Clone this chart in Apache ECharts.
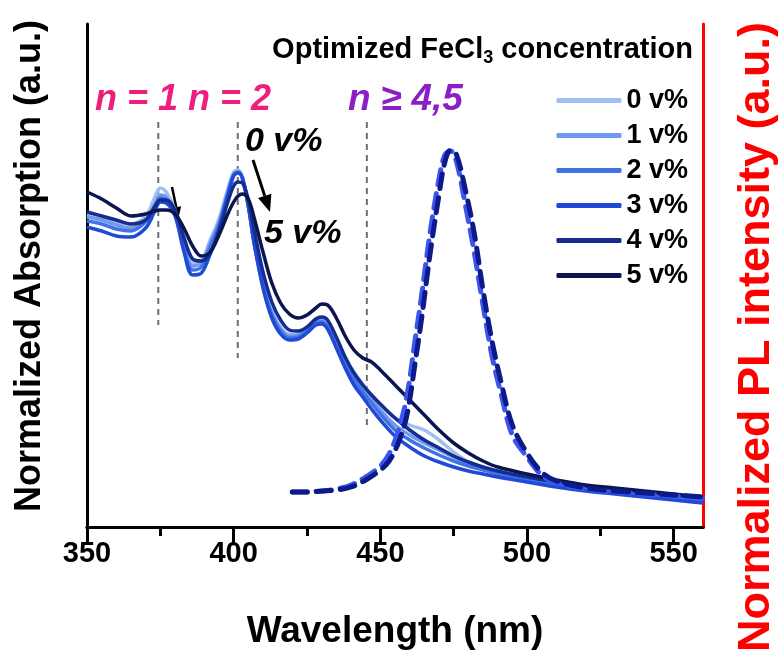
<!DOCTYPE html>
<html>
<head>
<meta charset="utf-8">
<script src="https://cdn.jsdelivr.net/npm/echarts@6/dist/echarts.min.js"></script>
<style>
html,body{margin:0;padding:0;background:#fff;}
#chart{width:780px;height:657px;}
</style>
</head>
<body>
<div id="chart"></div>
<script>
// ---- Data ----
const wavelengths = [350,355,360,365,370,373,375,377,380,383,386,389,392,395,398,400,401.5,403,405,407,410,413,416,419,422,425,428,430,432,435,438,441,444,447,450,455,460,465,470,475,480,485,490,500,510,520,530,540,550,560];
const abs0 = [312,309,305,303,311,329,339,335,317,284,263,266,287,308,338,355,357,349,322,287,245,217,200,193,194,199,207,208,203,187,169,155,143,132,122,109,102,97,87,75,65,59,55,49,44,40,37,33,30,27];
const abs1 = [310,307,302,299,307,322,332,330,315,282,261,264,284,305,335,353,355,348,320,284,242,214,198,191,192,197,205,206,201,184,166,151,139,128,117,102,92,84,77,70,64,59,55,49,44,40,36,33,30,27];
const abs2 = [306,303,298,296,305,319,329,327,313,279,257,260,280,302,333,352,355,349,321,284,241,212,196,189,190,196,204,205,200,182,163,147,135,124,113,97,87,79,72,66,61,57,53,47,42,38,35,32,29,26];
const abs3 = [300,296,291,290,299,315,325,324,311,276,252,254,273,298,331,351,354,349,321,283,239,209,193,187,188,194,202,203,198,179,159,142,130,118,107,91,80,71,65,60,56,53,50,45,40,36,33,30,27,24];
const abs4 = [315,311,307,303,307,320,327,327,317,290,268,266,274,296,325,341,345,344,327,297,255,225,207,197,196,200,208,210,207,190,170,154,142,132,123,109,97,87,79,71,65,60,56,50,45,41,38,35,32,29];
const abs5 = [335,328,319,311,313,316,317,317,313,299,281,271,275,292,313,325,331,333,328,309,275,244,224,213,209,212,219,223,222,209,191,177,169,165,157,142,127,112,97,84,74,66,60,53,47,42,39,36,33,30];
const absNames = ['0 v%','1 v%','2 v%','3 v%','4 v%','5 v%'];
const absColors = ['#a3bdf5','#7299ec','#4272e6','#2049d8','#152d8f','#0b1550'];

const plWavelengths = [420,425,430,435,440,445,450,453,456,459,462,464,467,470,472,474,476,479,482,485,488,491,495,500,505,510,520,530,540,550,560];
const plBlue = [35,35,36,38,42,50,61,73,95,130,190,230,295,348,372,376,365,322,275,222,172,135,92,70,52,44,38,35,33,31,29];
const plNavy = [35,35,36,37,40,47,57,66,83,111,167,207,274,332,365,377,372,337,294,237,187,147,102,74,55,46,39,36,34,32,30];

const markerWavelengths = [374.3, 401.4, 445.4];
const markerTop = 405;
const markerBottoms = [202, 169, 97];

const xTickValues = [350,400,450,500,550];
const xMinorTickValues = [375,425,475,525];

// ---- Chart ----
const chart = echarts.init(document.getElementById('chart'));
const absSeries = [abs0,abs1,abs2,abs3,abs4,abs5].map((arr,k)=>({
  name: absNames[k], type:'line', xAxisIndex:0, yAxisIndex:0,
  data: wavelengths.map((w,i)=>[w,arr[i]]),
  smooth: 0.35, symbol:'none',
  lineStyle:{width:3.5,color:absColors[k]}, itemStyle:{color:absColors[k]},
  z: 3 + k, silent:true
}));
const markerSeries = markerWavelengths.map((w,i)=>({
  name:'marker'+i, type:'line', xAxisIndex:0, yAxisIndex:0,
  data:[[w,markerTop],[w,markerBottoms[i]]], symbol:'none',
  lineStyle:{width:2,color:'#6e6e6e',type:[6,5]}, z:2, silent:true
}));
const plSeries = [
  {name:'PL 0 v%', data: plWavelengths.map((w,i)=>[w,plBlue[i]]), color:'#3b55ee'},
  {name:'PL 5 v%', data: plWavelengths.map((w,i)=>[w,plNavy[i]]), color:'#0c1a8a'}
].map((s,k)=>({
  name:s.name, type:'line', xAxisIndex:0, yAxisIndex:1, data:s.data,
  smooth:0.35, symbol:'none', lineStyle:{width:5,color:s.color,type:[15,9],cap:'round'},
  z: 10+k, silent:true
}));

const FONT = '"Liberation Sans", Arial, sans-serif';
function arrowEls(from, tip, headLen, halfW, width){
  const dx = tip[0]-from[0], dy = tip[1]-from[1];
  const L = Math.hypot(dx,dy), ux = dx/L, uy = dy/L;
  const bx = tip[0]-ux*headLen, by = tip[1]-uy*headLen;
  const px = -uy*halfW, py = ux*halfW;
  return [
    {type:'line', shape:{x1:from[0],y1:from[1],x2:bx,y2:by}, style:{stroke:'#000',lineWidth:width}},
    {type:'polygon', shape:{points:[[tip[0],tip[1]],[bx+px,by+py],[bx-px,by-py]]}, style:{fill:'#000'}}
  ];
}

chart.setOption({
  animation:false,
  backgroundColor:'#fff',
  grid:{left:87,right:77,top:24,bottom:130,containLabel:false},
  legend:{
    data:absNames, orient:'vertical', right:87, top:82, itemWidth:65, itemHeight:5,
    itemGap:8, icon:'roundRect', align:'left',
    textStyle:{fontSize:27,fontWeight:'bold',color:'#000',fontFamily:FONT}
  },
  xAxis:[
    {type:'value', position:'bottom', min:350, max:560,
     axisLine:{show:true,lineStyle:{color:'#000',width:3}},
     axisTick:{show:true,inside:false,length:17,lineStyle:{color:'#000',width:3},customValues:xTickValues},
     axisLabel:{show:true,customValues:xTickValues,fontSize:29,fontWeight:'bold',color:'#000',fontFamily:FONT,margin:12},
     splitLine:{show:false}},
    {type:'value', position:'top', min:350, max:560,
     axisLine:{show:true,lineStyle:{color:'#000',width:3}},
     axisTick:{show:false}, axisLabel:{show:false}, splitLine:{show:false}},
    {type:'value', position:'bottom', offset:0, min:350, max:560,
     axisLine:{show:false},
     axisTick:{show:true,inside:false,length:9,lineStyle:{color:'#000',width:3},customValues:xMinorTickValues},
     axisLabel:{show:false}, splitLine:{show:false}}
  ],
  yAxis:[
    {type:'value', position:'left', min:0, max:503,
     axisLine:{show:true,lineStyle:{color:'#000',width:3}},
     axisTick:{show:false}, axisLabel:{show:false}, splitLine:{show:false}},
    {type:'value', position:'right', min:0, max:503,
     axisLine:{show:true,lineStyle:{color:'#ff0000',width:3}},
     axisTick:{show:false}, axisLabel:{show:false}, splitLine:{show:false}}
  ],
  series:[...markerSeries, ...absSeries, ...plSeries],
  graphic:[
    {type:'text', x:30, y:266, rotation:Math.PI/2,
     style:{text:'Normalized Absorption (a.u.)', font:'bold 36px '+FONT, fill:'#000', align:'center', verticalAlign:'middle'}},
    {type:'text', x:757, y:337, rotation:Math.PI/2,
     style:{text:'Normalized PL intensity (a.u.)', font:'bold 45px '+FONT, fill:'#ff0000', align:'center', verticalAlign:'middle'}},
    {type:'text', x:395, y:632,
     style:{text:'Wavelength (nm)', font:'bold 37px '+FONT, fill:'#000', align:'center', verticalAlign:'middle'}},
    {type:'text', x:693, y:50,
     style:{text:'{a|Optimized FeCl}{s|3}{a| concentration}', align:'right', verticalAlign:'middle',
       rich:{a:{font:'bold 29px '+FONT, fill:'#000', lineHeight:34, verticalAlign:'middle'},
             s:{font:'bold 18px '+FONT, fill:'#000', lineHeight:34, verticalAlign:'bottom'}}}},
    {type:'text', x:95, y:100,
     style:{text:'n = 1 n = 2', font:'italic bold 36px '+FONT, fill:'#ee1d7e', align:'left', verticalAlign:'middle'}},
    {type:'text', x:348, y:100,
     style:{text:'n ≥ 4,5', font:'italic bold 37px '+FONT, fill:'#8a1fc8', align:'left', verticalAlign:'middle'}},
    {type:'text', x:245, y:142,
     style:{text:'0 v%', font:'italic bold 34px '+FONT, fill:'#000', align:'left', verticalAlign:'middle'}},
    {type:'text', x:264, y:234,
     style:{text:'5 v%', font:'italic bold 34px '+FONT, fill:'#000', align:'left', verticalAlign:'middle'}},
    ...arrowEls([253,160],[270,212],17,7,3),
    ...arrowEls([172,187],[178.5,218],11,5,2.5)
  ]
});
</script>
</body>
</html>
